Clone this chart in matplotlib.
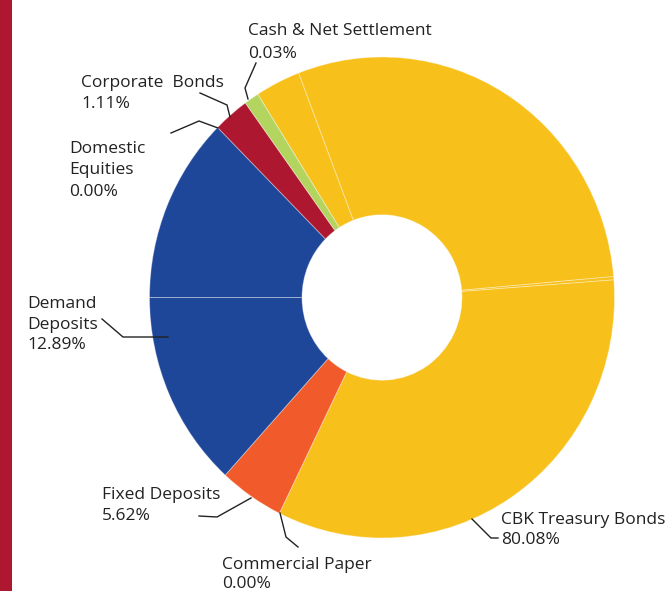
import matplotlib
matplotlib.use("Agg")
import matplotlib.pyplot as plt
from matplotlib.patches import Rectangle

# slice weights as drawn (clockwise from the green/yellow boundary)
slice_sizes = [11.3, 106.0, 0.8, 120.4, 16.2, 47.6, 45.0, 9.0, 3.7]
slice_groups = ["cbk", "cbk", "cbk", "cbk", "fixed", "demand", "demand", "corp", "cash"]

group_colors = {
    "cbk": "#F8C01A",
    "fixed": "#F15A2A",
    "demand": "#1E4699",
    "corp": "#AD172F",
    "cash": "#B3D55F",
}

label_names = [
    ["Cash & Net Settlement"],
    ["Corporate  Bonds"],
    ["Domestic", "Equities"],
    ["Demand", "Deposits"],
    ["Fixed Deposits"],
    ["Commercial Paper"],
    ["CBK Treasury Bonds"],
]
label_pcts = ["0.03%", "1.11%", "0.00%", "12.89%", "5.62%", "0.00%", "80.08%"]

# layout (pixels): text left x, baselines, leader polyline
label_x = [248, 81, 69, 27, 102, 222, 501]
label_baselines = [
    [35, 58.3],
    [86.7, 108.3],
    [152.7, 174, 196],
    [308.3, 329.3, 349],
    [499, 520],
    [569.3, 588.5],
    [524.3, 544.3],
]
leaders = [
    [(256, 63), (245, 88), (248, 99)],
    [(200, 93), (227, 105), (230, 117)],
    [(171, 133), (199, 121), (218, 128)],
    [(102, 319), (123, 337), (168, 337)],
    [(199, 516), (217, 517), (251, 498)],
    [(280, 513), (286, 537), (298, 547)],
    [(472, 519), (491, 538), (498, 538)],
]

W, H = 667, 591
cx, cy, rx, ry = 382, 297.5, 232.5, 240.5
inner_frac = 0.344

fig = plt.figure(figsize=(W / 100, H / 100), dpi=100)

ax = fig.add_axes([0, 0, 1, 1])
ax.pie(
    slice_sizes,
    colors=[group_colors[g] for g in slice_groups],
    startangle=122.3,
    counterclock=False,
    radius=1,
    wedgeprops=dict(width=1 - inner_frac, edgecolor=(1, 1, 1, 0.35), linewidth=0.7),
)
ax.set_aspect("auto")
ax.set_xlim(-cx / rx, (W - cx) / rx)
ax.set_ylim((cy - H) / ry, cy / ry)
ax.axis("off")

# overlay in pixel coordinates for labels
ov = fig.add_axes([0, 0, 1, 1])
ov.set_xlim(0, W)
ov.set_ylim(H, 0)
ov.axis("off")
ov.patch.set_alpha(0)

ov.add_patch(Rectangle((0, 0), 12, H, color="#AD1730", lw=0))

text_color = "#222222"
for names, pct, x, bases, pts in zip(label_names, label_pcts, label_x, label_baselines, leaders):
    for line, b in zip(names + [pct], bases):
        ov.text(x, b, line, fontsize=12.5, family="Open Sans", color=text_color,
                ha="left", va="baseline")
    xs, ys = zip(*pts)
    ov.plot(xs, ys, color="#222222", lw=1.0, solid_joinstyle="miter")

fig.savefig("out.png", dpi=100)
